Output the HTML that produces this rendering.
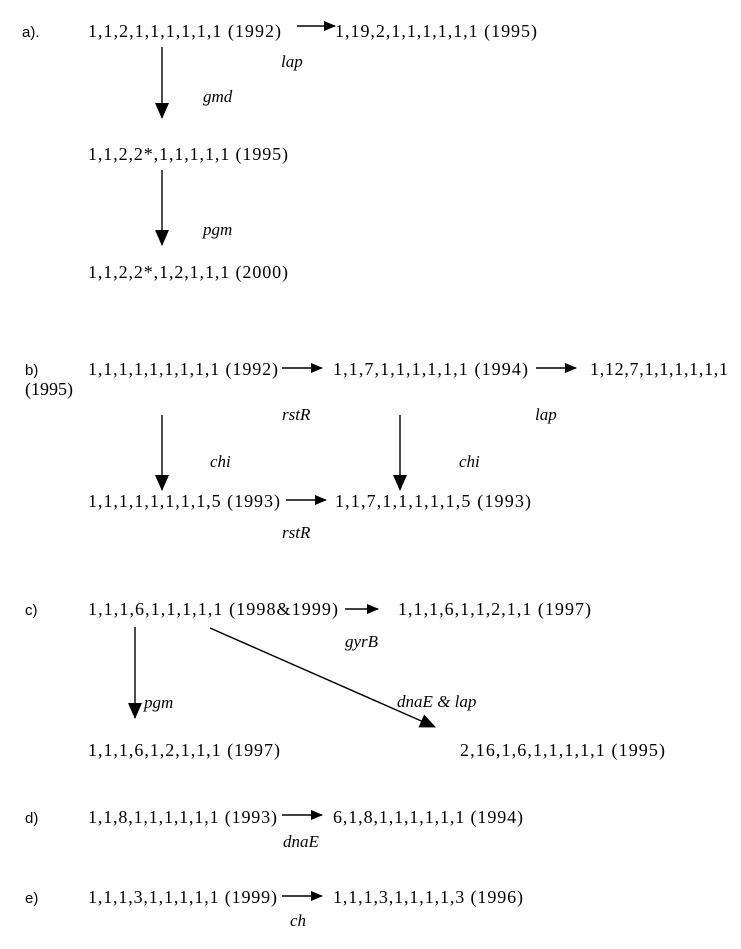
<!DOCTYPE html>
<html><head><meta charset="utf-8"><style>
html,body{margin:0;padding:0;background:#fff;}
svg{display:block;}
.t{font-family:"Liberation Serif",serif;font-size:18px;fill:#000;}
.i{font-family:"Liberation Serif",serif;font-size:17px;font-style:italic;fill:#000;}
.l{font-family:"Liberation Sans",sans-serif;font-size:15px;fill:#000;}
line{stroke:#000;stroke-width:1.4;}
</style></head><body>
<svg width="741" height="949" viewBox="0 0 741 949" xmlns="http://www.w3.org/2000/svg">
<defs>
<marker id="h" markerWidth="12" markerHeight="10" refX="11" refY="5" orient="auto" markerUnits="userSpaceOnUse"><path d="M0,0 L12,5 L0,10 Z" fill="#000"/></marker>
<marker id="v" markerWidth="16" markerHeight="14" refX="15" refY="7" orient="auto" markerUnits="userSpaceOnUse"><path d="M0,0 L16,7 L0,14 Z" fill="#000"/></marker>
</defs>
<!-- a -->
<text class="l" x="22" y="37">a).</text>
<text class="t" x="88" y="37" textLength="193" lengthAdjust="spacing">1,1,2,1,1,1,1,1,1 (1992)</text>
<line x1="297" y1="26" x2="335" y2="26" marker-end="url(#h)"/>
<text class="t" x="335" y="37" textLength="202" lengthAdjust="spacing">1,19,2,1,1,1,1,1,1 (1995)</text>
<text class="i" x="281" y="67">lap</text>
<line x1="162" y1="47" x2="162" y2="118" marker-end="url(#v)"/>
<text class="i" x="203" y="102">gmd</text>
<text class="t" x="88" y="160" textLength="200" lengthAdjust="spacing">1,1,2,2*,1,1,1,1,1 (1995)</text>
<line x1="162" y1="170" x2="162" y2="245" marker-end="url(#v)"/>
<text class="i" x="203" y="235">pgm</text>
<text class="t" x="88" y="278" textLength="200" lengthAdjust="spacing">1,1,2,2*,1,2,1,1,1 (2000)</text>
<!-- b -->
<text class="l" x="25" y="375">b)</text>
<text class="t" x="88" y="375" textLength="190" lengthAdjust="spacing">1,1,1,1,1,1,1,1,1 (1992)</text>
<line x1="282" y1="368" x2="322" y2="368" marker-end="url(#h)"/>
<text class="t" x="333" y="375" textLength="195" lengthAdjust="spacing">1,1,7,1,1,1,1,1,1 (1994)</text>
<line x1="536" y1="368" x2="576" y2="368" marker-end="url(#h)"/>
<text class="t" x="590" y="375" textLength="138" lengthAdjust="spacing">1,12,7,1,1,1,1,1,1</text>
<text class="t" x="25" y="395">(1995)</text>
<text class="i" x="282" y="420">rstR</text>
<text class="i" x="535" y="420">lap</text>
<line x1="162" y1="415" x2="162" y2="490" marker-end="url(#v)"/>
<line x1="400" y1="415" x2="400" y2="490" marker-end="url(#v)"/>
<text class="i" x="210" y="467">chi</text>
<text class="i" x="459" y="467">chi</text>
<text class="t" x="88" y="507" textLength="192" lengthAdjust="spacing">1,1,1,1,1,1,1,1,5 (1993)</text>
<line x1="286" y1="500" x2="326" y2="500" marker-end="url(#h)"/>
<text class="t" x="335" y="507" textLength="196" lengthAdjust="spacing">1,1,7,1,1,1,1,1,5 (1993)</text>
<text class="i" x="282" y="538">rstR</text>
<!-- c -->
<text class="l" x="25" y="615">c)</text>
<text class="t" x="88" y="615" textLength="250" lengthAdjust="spacing">1,1,1,6,1,1,1,1,1 (1998&amp;1999)</text>
<line x1="345" y1="609" x2="378" y2="609" marker-end="url(#h)"/>
<text class="t" x="398" y="615" textLength="193" lengthAdjust="spacing">1,1,1,6,1,1,2,1,1 (1997)</text>
<text class="i" x="345" y="647">gyrB</text>
<line x1="135" y1="627" x2="135" y2="718" marker-end="url(#v)"/>
<text class="i" x="144" y="708">pgm</text>
<line x1="210" y1="628" x2="435" y2="727" marker-end="url(#v)"/>
<text class="i" x="397" y="707">dnaE &amp; lap</text>
<text class="t" x="88" y="756" textLength="192" lengthAdjust="spacing">1,1,1,6,1,2,1,1,1 (1997)</text>
<text class="t" x="460" y="756" textLength="205" lengthAdjust="spacing">2,16,1,6,1,1,1,1,1 (1995)</text>
<!-- d -->
<text class="l" x="25" y="823">d)</text>
<text class="t" x="88" y="823" textLength="189" lengthAdjust="spacing">1,1,8,1,1,1,1,1,1 (1993)</text>
<line x1="282" y1="815" x2="322" y2="815" marker-end="url(#h)"/>
<text class="t" x="333" y="823" textLength="190" lengthAdjust="spacing">6,1,8,1,1,1,1,1,1 (1994)</text>
<text class="i" x="283" y="847">dnaE</text>
<!-- e -->
<text class="l" x="25" y="903">e)</text>
<text class="t" x="88" y="903" textLength="189" lengthAdjust="spacing">1,1,1,3,1,1,1,1,1 (1999)</text>
<line x1="282" y1="896" x2="322" y2="896" marker-end="url(#h)"/>
<text class="t" x="333" y="903" textLength="190" lengthAdjust="spacing">1,1,1,3,1,1,1,1,3 (1996)</text>
<text class="i" x="290" y="926">ch</text>
</svg>
</body></html>
